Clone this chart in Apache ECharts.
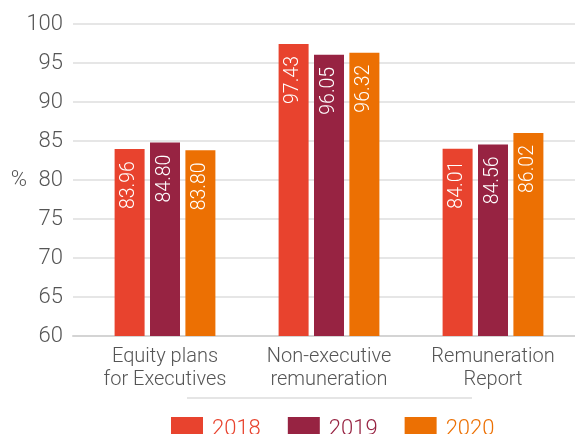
<!DOCTYPE html>
<html>
<head>
<meta charset="utf-8">
<script src="https://cdn.jsdelivr.net/npm/echarts@6/dist/echarts.min.js"></script>
<style>
html,body{margin:0;padding:0;background:#fff;}
#chart{width:575px;height:434px;}
</style>
</head>
<body>
<div id="chart"></div>
<script>
const categories = ['Equity plans\nfor Executives', 'Non-executive\nremuneration', 'Remuneration\nReport'];
const seriesNames = ['2018', '2019', '2020'];
const values2018 = [83.96, 97.43, 84.01];
const values2019 = [84.80, 96.05, 84.56];
const values2020 = [83.80, 96.32, 86.02];
const yMin = 60, yMax = 100, yStep = 5;
const colors = ['#e8432e', '#972342', '#ec7003'];
const FONT = 'Roboto';

const allValues = [values2018, values2019, values2020];
const chart = echarts.init(document.getElementById('chart'), null, {renderer: 'canvas'});
const option = {
  animation: false,
  textStyle: {fontFamily: FONT},
  grid: [
    {left: 73, right: 0, top: 24, bottom: 98},
    {left: 83, width: 494, top: 24, bottom: 98}
  ],
  xAxis: [
    {gridIndex: 0, type: 'category', data: [''],
     axisLine: {show: true, lineStyle: {color: '#d4d4d4', width: 2}},
     axisTick: {show: false}, axisLabel: {show: false}},
    {gridIndex: 1, type: 'category', data: categories,
     axisLine: {show: false}, axisTick: {show: false},
     axisLabel: {color: '#555', fontSize: 20, fontWeight: 300, lineHeight: 23, margin: 9, fontFamily: FONT}}
  ],
  yAxis: [
    {gridIndex: 0, type: 'value', min: yMin, max: yMax, interval: yStep,
     name: '%', nameLocation: 'middle', nameRotate: 0, nameGap: 46, nameMoveOverlap: false,
     nameTextStyle: {color: '#555', fontSize: 22, fontWeight: 300, fontFamily: FONT},
     axisLine: {show: false}, axisTick: {show: false},
     axisLabel: {color: '#555', fontSize: 22, fontWeight: 300, margin: 10, fontFamily: FONT},
     splitLine: {lineStyle: {color: '#dedede', width: 1.5}}},
    {gridIndex: 1, type: 'value', min: yMin, max: yMax, interval: yStep, show: false,
     splitLine: {show: false}}
  ],
  legend: {
    left: 166, top: 412, icon: 'rect', itemWidth: 32, itemHeight: 24, itemGap: 27,
    textStyle: {fontSize: 22, fontWeight: 300, fontFamily: FONT, padding: [0,0,0,4]},
    data: seriesNames.map((n, i) => ({name: n, textStyle: {color: colors[i]}}))
  },
  graphic: [
    {type: 'line', shape: {x1: 187, y1: 398, x2: 472, y2: 398},
     style: {stroke: '#dcdcdc', lineWidth: 1.5}}
  ],
  series: seriesNames.map((n, i) => ({
    name: n, type: 'bar', xAxisIndex: 1, yAxisIndex: 1,
    data: allValues[i], barWidth: 30, barGap: '18%',
    itemStyle: {color: colors[i]},
    label: {show: true, position: 'insideTop', rotate: 90, align: 'right', verticalAlign: 'middle',
      distance: 12, color: '#fff', fontSize: 19.5, fontWeight: 300, fontFamily: FONT,
      formatter: p => p.value.toFixed(2)}
  }))
};
chart.setOption(option);
</script>
</body>
</html>
